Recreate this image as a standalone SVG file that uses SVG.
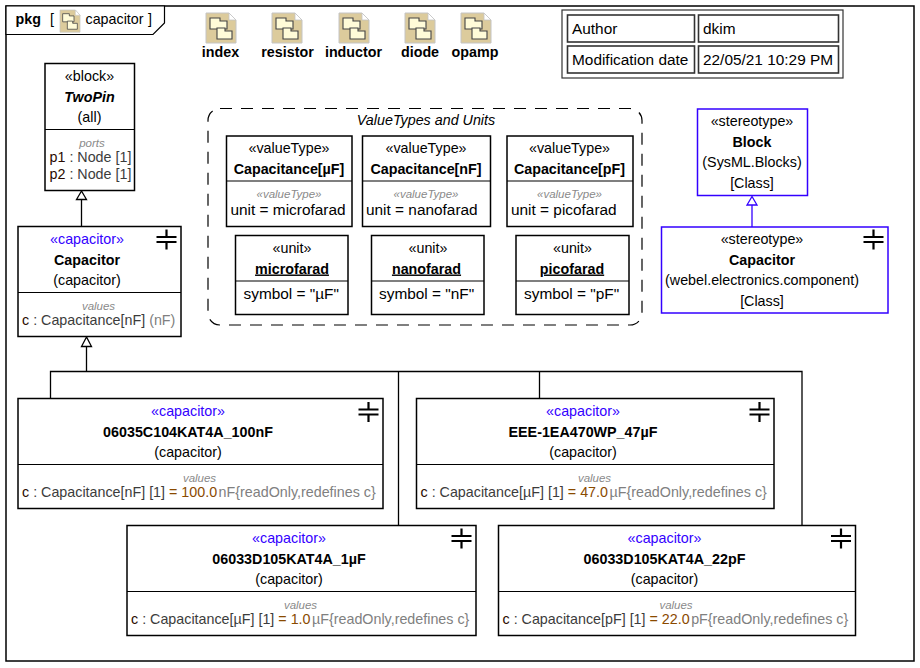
<svg xmlns="http://www.w3.org/2000/svg" width="920" height="668" viewBox="0 0 920 668">
<style>
text{font-family:"Liberation Sans",Arial,sans-serif;font-size:14.3px;fill:#000}
.c{text-anchor:middle}
.b{font-weight:bold}
.i{font-style:italic}
.bi{font-weight:bold;font-style:italic}
.u{text-decoration:underline}
.s{fill:#3300ff}
.l{font-size:15.4px}
.lab{font-size:11.5px;font-style:italic;fill:#8a8a8a;text-anchor:middle}
.d{fill:#3c3c3c}
.g{fill:#808080}
.v{fill:#8a4a00}
.e{fill:#2a0a00}
.box{fill:#fff;stroke:#000;stroke-width:1.5}
.blue{fill:#fff;stroke:#3300ff;stroke-width:1.5}
.div{stroke:#000;stroke-width:1.2}
.conn{fill:none;stroke:#000;stroke-width:1.3}
.head{fill:#fff;stroke:#000;stroke-width:1.3}
.cell{fill:#fff;stroke:#333;stroke-width:1.6}
</style>
<defs>
<g id="cap"><path d="M-10 -2.500H10M-10 2.500H10M0 -10V-2.500M0 2.500V10" fill="none" stroke="#000" stroke-width="2.200"/></g>
<g id="pk">
<path d="M0 0H23L30 7V30H0Z" fill="#dccb9c" stroke="#c4c4c4" stroke-width="1"/>
<path d="M23 0V7H30Z" fill="#fff" stroke="#c4c4c4" stroke-width="0.8"/>
<path d="M4 5H14V8H21V16H4Z" fill="#fffbd8" stroke="#444" stroke-width="1.1"/>
<path d="M11 15H19V18H26V26H11Z" fill="#fffbd8" stroke="#444" stroke-width="1.1"/>
</g>
</defs>
<rect width="920" height="668" fill="#fff"/>
<g id="frame">
<rect x="6" y="6" width="908" height="655" fill="#fff" stroke="#000" stroke-width="1.5"/>
<path d="M6 6H164.500V23L153 34.500H6Z" fill="#fff" stroke="#000" stroke-width="1.2"/>
<text x="15.500" y="24" class="b">pkg</text>
<text x="50" y="24">[</text>
<use href="#pk" transform="translate(60,10) scale(0.667 0.74)" />
<text x="85.500" y="24">capacitor</text>
<text x="148" y="24">]</text>
</g>
<g id="connectors">
<path class="conn" d="M81.500 199V226M86.500 346V371.500M50.500 398V371.500H802V525M398.500 371.500V525M539.500 371.500V398"/>
<path class="head" d="M81.500 191L76.500 199.500H86.500Z"/>
<path class="head" d="M86.500 337L81.500 346.500H91.500Z"/>
<path d="M752 205V227" fill="none" stroke="#3300ff" stroke-width="1.3"/>
<path d="M752 196.500L747 205H757Z" fill="#fff" stroke="#3300ff" stroke-width="1.3"/>
</g>
<g id="pkg-index"><use href="#pk" x="206" y="13"/><text x="220.500" y="57" class="c b">index</text></g>
<g id="pkg-resistor"><use href="#pk" x="272" y="13"/><text x="287.500" y="57" class="c b">resistor</text></g>
<g id="pkg-inductor"><use href="#pk" x="339" y="13"/><text x="353.500" y="57" class="c b">inductor</text></g>
<g id="pkg-diode"><use href="#pk" x="405" y="13"/><text x="420" y="57" class="c b">diode</text></g>
<g id="pkg-opamp"><use href="#pk" x="461" y="13"/><text x="475" y="57" class="c b">opamp</text></g>
<g id="info-table">
<rect x="562" y="10" width="281" height="68" fill="#fff" stroke="#333" stroke-width="1.2"/>
<rect class="cell" x="567.500" y="15" width="127" height="27"/>
<rect class="cell" x="698.500" y="15" width="140" height="27"/>
<rect class="cell" x="567.500" y="46" width="127" height="27"/>
<rect class="cell" x="698.500" y="46" width="140" height="27"/>
<text x="572" y="33.500" class="l">Author</text>
<text x="703" y="33.500" class="l">dkim</text>
<text x="572" y="64.500" class="l">Modification date</text>
<text x="703" y="64.500" class="l">22/05/21 10:29 PM</text>
</g>
<g id="TwoPin">
<rect class="box" x="45" y="63.500" width="89.500" height="127"/>
<path class="div" d="M45 129.500H134.500"/>
<text x="89.500" y="81" class="c">«block»</text>
<text x="89.500" y="101.500" class="c bi">TwoPin</text>
<text x="89.500" y="122" class="c">(all)</text>
<text x="92" y="147" class="lab">ports</text>
<text x="49.500" y="162"><tspan class="e">p1</tspan><tspan class="d"> : Node [1]</tspan></text>
<text x="49.500" y="179"><tspan class="e">p2</tspan><tspan class="d"> : Node [1]</tspan></text>
</g>
<g id="Capacitor">
<rect class="box" x="18" y="226.500" width="163" height="110"/>
<path class="div" d="M18 292.500H181"/>
<use href="#cap" x="166.500" y="239.500"/>
<text x="87" y="244" class="c s">«capacitor»</text>
<text x="87" y="264.500" class="c b">Capacitor</text>
<text x="87" y="285" class="c">(capacitor)</text>
<text x="98.500" y="310" class="lab">values</text>
<text x="22" y="325"><tspan class="e">c</tspan><tspan class="d"> : Capacitance[nF]</tspan><tspan class="g"> (nF)</tspan></text>
</g>
<g id="group-valuetypes">
<rect x="208" y="108.500" width="434" height="216.500" rx="12" fill="none" stroke="#000" stroke-width="1.2" stroke-dasharray="12 9"/>
<text x="426" y="125" class="c i">ValueTypes and Units</text>
</g>
<g id="vt-uF">
<rect class="box" x="226.500" y="136" width="125.500" height="90.500"/>
<path class="div" d="M226.500 181H352"/>
<text x="289" y="153" class="c">«valueType»</text>
<text x="289" y="173.500" class="c b">Capacitance[µF]</text>
<text x="289" y="198" class="lab">«valueType»</text>
<text x="230.500" y="214.500" class="l">unit = microfarad</text>
</g>
<g id="vt-nF">
<rect class="box" x="362.500" y="136" width="128" height="90.500"/>
<path class="div" d="M362.500 181H490.500"/>
<text x="426" y="153" class="c">«valueType»</text>
<text x="426" y="173.500" class="c b">Capacitance[nF]</text>
<text x="426" y="198" class="lab">«valueType»</text>
<text x="366" y="214.500" class="l">unit = nanofarad</text>
</g>
<g id="vt-pF">
<rect class="box" x="507" y="136" width="126" height="90.500"/>
<path class="div" d="M507 181H633"/>
<text x="569.500" y="153" class="c">«valueType»</text>
<text x="569.500" y="173.500" class="c b">Capacitance[pF]</text>
<text x="569.500" y="198" class="lab">«valueType»</text>
<text x="511" y="214.500" class="l">unit = picofarad</text>
</g>
<g id="unit-microfarad">
<rect class="box" x="235.500" y="235.500" width="112.500" height="79"/>
<path class="div" d="M235.500 281H348"/>
<text x="292" y="253" class="c">«unit»</text>
<text x="292" y="273.500" class="c b u">microfarad</text>
<text x="243.500" y="298.500" class="l">symbol = "µF"</text>
</g>
<g id="unit-nanofarad">
<rect class="box" x="371.500" y="235.500" width="112.500" height="79"/>
<path class="div" d="M371.500 281H484"/>
<text x="428" y="253" class="c">«unit»</text>
<text x="426.500" y="273.500" class="c b u">nanofarad</text>
<text x="379" y="298.500" class="l">symbol = "nF"</text>
</g>
<g id="unit-picofarad">
<rect class="box" x="516" y="235.500" width="113" height="79"/>
<path class="div" d="M516 281H629"/>
<text x="572.500" y="253" class="c">«unit»</text>
<text x="572" y="273.500" class="c b u">picofarad</text>
<text x="524" y="298.500" class="l">symbol = "pF"</text>
</g>
<g id="st-Block">
<rect class="blue" x="697.500" y="109" width="110" height="86.500"/>
<text x="752" y="126" class="c">«stereotype»</text>
<text x="752" y="146.500" class="c b">Block</text>
<text x="752" y="167" class="c">(SysML.Blocks)</text>
<text x="752" y="188" class="c">[Class]</text>
</g>
<g id="st-Capacitor">
<rect class="blue" x="661.500" y="227" width="226.500" height="86"/>
<use href="#cap" x="873.500" y="239.500"/>
<text x="762" y="244" class="c">«stereotype»</text>
<text x="762" y="264.500" class="c b">Capacitor</text>
<text x="762" y="285" class="c">(webel.electronics.component)</text>
<text x="762" y="305.500" class="c">[Class]</text>
</g>
<g id="c-100nF">
<rect class="box" x="18" y="398.500" width="365" height="110"/>
<path class="div" d="M18 464.500H383"/>
<use href="#cap" x="368.500" y="412"/>
<text x="188" y="416" class="c s">«capacitor»</text>
<text x="188" y="436.500" class="c b">06035C104KAT4A_100nF</text>
<text x="188" y="457" class="c">(capacitor)</text>
<text x="199.500" y="482" class="lab">values</text>
<text x="22" y="497"><tspan class="e">c</tspan><tspan class="d"> : Capacitance[nF] [1]</tspan><tspan class="v"> = 100.0</tspan><tspan class="g" dx="-2.500"> nF{readOnly,redefines c}</tspan></text>
</g>
<g id="c-47uF">
<rect class="box" x="416.500" y="398.500" width="357.500" height="110"/>
<path class="div" d="M416.500 464.500H774"/>
<use href="#cap" x="759.500" y="412"/>
<text x="583" y="416" class="c s">«capacitor»</text>
<text x="583" y="436.500" class="c b">EEE-1EA470WP_47µF</text>
<text x="583" y="457" class="c">(capacitor)</text>
<text x="594.500" y="482" class="lab">values</text>
<text x="420.500" y="497"><tspan class="e">c</tspan><tspan class="d"> : Capacitance[µF] [1]</tspan><tspan class="v"> = 47.0</tspan><tspan class="g" dx="-2.500"> µF{readOnly,redefines c}</tspan></text>
</g>
<g id="c-1uF">
<rect class="box" x="127" y="525.500" width="349" height="110"/>
<path class="div" d="M127 591.500H476"/>
<use href="#cap" x="461.500" y="538.500"/>
<text x="289" y="543" class="c s">«capacitor»</text>
<text x="289" y="563.500" class="c b">06033D105KAT4A_1µF</text>
<text x="289" y="584" class="c">(capacitor)</text>
<text x="300.500" y="609" class="lab">values</text>
<text x="131" y="624"><tspan class="e">c</tspan><tspan class="d"> : Capacitance[µF] [1]</tspan><tspan class="v"> = 1.0</tspan><tspan class="g" dx="-2.500"> µF{readOnly,redefines c}</tspan></text>
</g>
<g id="c-22pF">
<rect class="box" x="498.500" y="525.500" width="357" height="110"/>
<path class="div" d="M498.500 591.500H855.500"/>
<use href="#cap" x="841" y="538.500"/>
<text x="664.500" y="543" class="c s">«capacitor»</text>
<text x="664.500" y="563.500" class="c b">06033D105KAT4A_22pF</text>
<text x="664.500" y="584" class="c">(capacitor)</text>
<text x="676" y="609" class="lab">values</text>
<text x="502.500" y="624"><tspan class="e">c</tspan><tspan class="d"> : Capacitance[pF] [1]</tspan><tspan class="v"> = 22.0</tspan><tspan class="g" dx="-2.500"> pF{readOnly,redefines c}</tspan></text>
</g>
</svg>
